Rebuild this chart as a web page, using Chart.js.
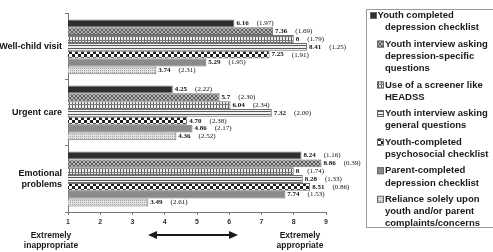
<!DOCTYPE html>
<html><head><meta charset="utf-8">
<script src="https://cdn.jsdelivr.net/npm/chart.js@4/dist/chart.umd.min.js"></script>
<style>html,body{margin:0;padding:0;background:#fff;}#wrap{position:relative;width:493px;height:252px;}</style>
</head><body><div id="wrap"><canvas id="c" width="493" height="252"></canvas></div>
<script>
// ---- data ----
const categories = ['Well-child visit', 'Urgent care', ['Emotional', 'problems']];
const xTicks = [1, 2, 3, 4, 5, 6, 7, 8, 9];
const seriesNames = [
  ['Youth completed', 'depression checklist'],
  ['Youth interview asking', 'depression-specific', 'questions'],
  ['Use of a screener like', 'HEADSS'],
  ['Youth interview asking', 'general questions'],
  ['Youth-completed', 'psychosocial checklist'],
  ['Parent-completed', 'depression checklist'],
  ['Reliance solely upon', 'youth and/or parent', 'complaints/concerns']
];
const youthDepChecklistMean   = ['6.16', '4.25', '8.24'];
const youthDepChecklistSD     = ['1.97', '2.22', '1.16'];
const interviewDepSpecMean    = ['7.36', '5.7', '8.86'];
const interviewDepSpecSD      = ['1.69', '2.30', '0.39'];
const screenerHeadssMean      = ['8', '6.04', '8'];
const screenerHeadssSD        = ['1.79', '2.34', '1.74'];
const interviewGeneralMean    = ['8.41', '7.32', '8.28'];
const interviewGeneralSD      = ['1.25', '2.00', '1.33'];
const psychosocialMean        = ['7.25', '4.70', '8.51'];
const psychosocialSD          = ['1.91', '2.38', '0.86'];
const parentDepChecklistMean  = ['5.29', '4.86', '7.74'];
const parentDepChecklistSD    = ['1.95', '2.17', '1.53'];
const relianceMean            = ['3.74', '4.36', '3.49'];
const relianceSD              = ['2.31', '2.52', '2.61'];
const axisLeftText = ['Extremely', 'inappropriate'];
const axisRightText = ['Extremely', 'appropriate'];

const means = [youthDepChecklistMean, interviewDepSpecMean, screenerHeadssMean, interviewGeneralMean, psychosocialMean, parentDepChecklistMean, relianceMean];
const sds = [youthDepChecklistSD, interviewDepSpecSD, screenerHeadssSD, interviewGeneralSD, psychosocialSD, parentDepChecklistSD, relianceSD];

// ---- patterns ----
function pat(w, h, draw) {
  const c = document.createElement('canvas'); c.width = w; c.height = h;
  const g = c.getContext('2d'); draw(g);
  return g.createPattern(c, 'repeat');
}
const fills = [
  '#2e2e2e',
  pat(4, 4, g => { g.fillStyle = '#b4b4b4'; g.fillRect(0,0,4,4); g.fillStyle = '#5e5e5e'; for (let i=0;i<4;i++){ g.fillRect(i,i,1,1); g.fillRect(3-i,i,1,1);} }),
  pat(3, 4, g => { g.fillStyle = '#ececec'; g.fillRect(0,0,3,4); g.fillStyle = '#5e5e5e'; g.fillRect(0,0,1,4); g.fillStyle = '#7a7a7a'; g.fillRect(0,0,3,1); }),
  pat(1, 3, g => { g.fillStyle = '#f0f0f0'; g.fillRect(0,0,1,3); g.fillStyle = '#5a5a5a'; g.fillRect(0,0,1,1); }),
  pat(6, 6, g => { g.fillStyle = '#ffffff'; g.fillRect(0,0,6,6); g.fillStyle = '#222'; g.fillRect(0,0,3,3); g.fillRect(3,3,3,3); }),
  '#8a8a8a',
  pat(2, 2, g => { g.fillStyle = '#e2e2e2'; g.fillRect(0,0,2,2); g.fillStyle = '#a4a4a4'; g.fillRect(0,0,1,1); })
];

// ---- plugins ----
const valueLabels = {
  id: 'valueLabels',
  afterDatasetsDraw(chart) {
    const ctx = chart.ctx;
    ctx.save();
    ctx.textBaseline = 'middle';
    ctx.fillStyle = '#111';
    chart.data.datasets.forEach((ds, di) => {
      chart.getDatasetMeta(di).data.forEach((el, i) => {
        const x = el.x + 2, y = el.y;
        ctx.font = 'bold 7px "Liberation Serif", serif';
        const t = means[di][i];
        ctx.fillText(t, x, y);
        const w = ctx.measureText(t).width;
        ctx.font = '7px "Liberation Serif", serif';
        ctx.fillText('(' + sds[di][i] + ')', x + w + 8, y);
      });
    });
    ctx.restore();
  }
};
const boxLegend = {
  id: 'boxLegend',
  afterDraw(chart) {
    const ctx = chart.ctx;
    ctx.save();
    ctx.strokeStyle = '#9a9a9a'; ctx.lineWidth = 1;
    ctx.strokeRect(366.5, 9.5, 130, 218);
    ctx.font = 'bold 9.5px "Liberation Sans", Arial, sans-serif';
    ctx.textBaseline = 'middle';
    let y = 15.5;
    seriesNames.forEach((lines, i) => {
      const ix = i === 0 ? 370 : 377;
      const tx = i === 0 ? 377.5 : 385;
      ctx.fillStyle = fills[i];
      ctx.fillRect(ix, y - 3.5, 7, 7);
      ctx.strokeStyle = '#666';
      ctx.strokeRect(ix + 0.5, y - 3, 6, 6);
      ctx.fillStyle = '#1a1a1a';
      lines.forEach((ln, k) => ctx.fillText(ln, k === 0 ? tx : 385, y + k * 12.2));
      y += lines.length * 12.2 + 4.2;
    });
    ctx.restore();
  }
};
const bottomNotes = {
  id: 'bottomNotes',
  afterDraw(chart) {
    const ctx = chart.ctx;
    ctx.save();
    ctx.font = 'bold 8.5px "Liberation Sans", Arial, sans-serif';
    ctx.fillStyle = '#1a1a1a';
    ctx.textAlign = 'center'; ctx.textBaseline = 'middle';
    axisLeftText.forEach((t, k) => ctx.fillText(t, 51, 235.5 + k * 10));
    axisRightText.forEach((t, k) => ctx.fillText(t, 300, 235.5 + k * 10));
    // double arrow
    const y = 235, x1 = 148, x2 = 238;
    ctx.strokeStyle = '#1a1a1a'; ctx.lineWidth = 2;
    ctx.beginPath(); ctx.moveTo(x1 + 6, y); ctx.lineTo(x2 - 6, y); ctx.stroke();
    ctx.beginPath(); ctx.moveTo(x1, y); ctx.lineTo(x1 + 9, y - 4); ctx.lineTo(x1 + 9, y + 4); ctx.closePath(); ctx.fill();
    ctx.beginPath(); ctx.moveTo(x2, y); ctx.lineTo(x2 - 9, y - 4); ctx.lineTo(x2 - 9, y + 4); ctx.closePath(); ctx.fill();
    ctx.restore();
  }
};

new Chart(document.getElementById('c'), {
  type: 'bar',
  data: {
    labels: categories,
    datasets: means.map((m, i) => ({
      label: seriesNames[i].join(' '),
      data: m.map(Number),
      backgroundColor: fills[i],
      borderColor: '#707070',
      borderWidth: 1,
      categoryPercentage: 0.83,
      barPercentage: 1
    }))
  },
  options: {
    indexAxis: 'y',
    responsive: false,
    animation: false,
    devicePixelRatio: 1,
    layout: { padding: { left: 0, top: 9, right: 167, bottom: 24 } },
    plugins: { legend: { display: false }, tooltip: { enabled: false } },
    scales: {
      x: {
        min: xTicks[0], max: xTicks[xTicks.length - 1],
        afterBuildTicks(s) { s.ticks = xTicks.map(v => ({ value: v })); },
        ticks: { font: { family: '"Liberation Sans", Arial, sans-serif', weight: 'bold', size: 7 }, color: '#333', padding: 3 },
        grid: { drawOnChartArea: false, tickLength: 3, color: '#777' },
        border: { color: '#777' },
        afterFit(s) { s.height = 16; }
      },
      y: {
        ticks: { font: { family: '"Liberation Sans", Arial, sans-serif', weight: 'bold', size: 9 }, color: '#111', padding: 3 },
        grid: { drawOnChartArea: false, tickLength: 3, offset: true, color: '#777' },
        border: { color: '#777' },
        afterFit(s) { s.width = 68; }
      }
    }
  },
  plugins: [valueLabels, boxLegend, bottomNotes]
});
</script></body></html>
